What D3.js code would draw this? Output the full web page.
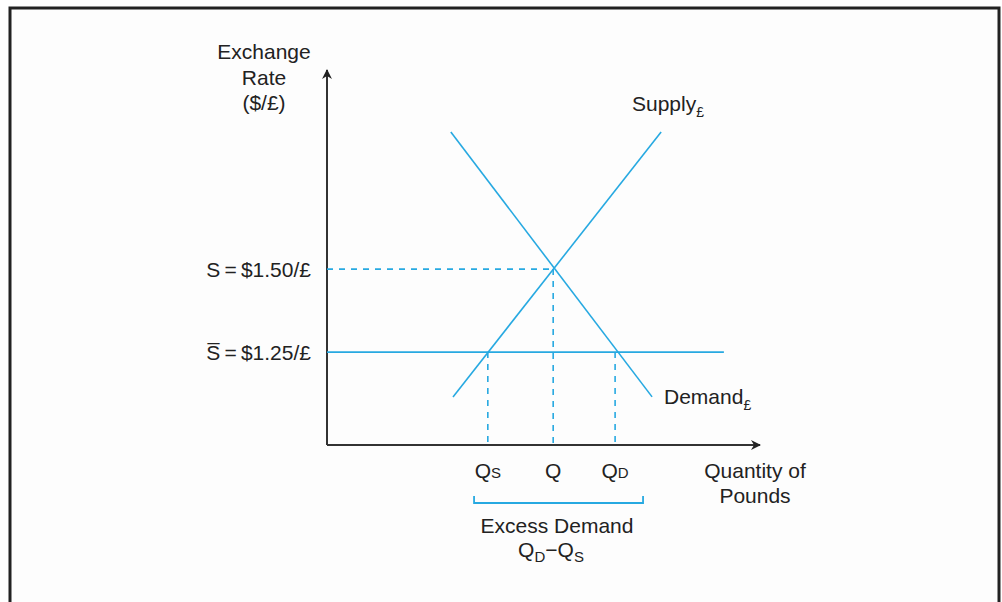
<!DOCTYPE html>
<html><head><meta charset="utf-8">
<script src="https://cdn.jsdelivr.net/npm/d3@7"></script>
<style>body{margin:0;background:#fff}text{font-family:"Liberation Sans",Arial,sans-serif;fill:#222}</style>
</head><body>
<script>
// Data (quantity units 0-100, exchange rate $/£)
const supplyLine = [{q:29.3, s:1.115},{q:77.7, s:1.913}];
const demandLine = [{q:28.8, s:1.913},{q:75.6, s:1.115}];
const rateLevels = [{label:"S", value:1.50, text:"\u2009=\u2009$1.50/£"},{label:"S\u0305", value:1.25, text:"\u2009=\u2009$1.25/£"}];
const quantities = [{name:"Q", sub:"s", q:37.4},{name:"Q", sub:"", q:52.6},{name:"Q", sub:"D", q:67.0}];
const pegEnd = 92.3;

const W=1002,H=602, FS=21;
const svg=d3.select("body").append("svg").attr("width",W).attr("height",H);
svg.append("rect").attr("x",10).attr("y",8).attr("width",989).attr("height",H).attr("fill","#fdfdfd").attr("stroke","#222").attr("stroke-width",3);

const x=d3.scaleLinear().domain([0,100]).range([327,757]);
const y=d3.scaleLinear().domain([0.97,2.10]).range([445,70]);
const blue="#27a9e1", axisC="#333";

// axes
svg.append("defs").append("marker").attr("id","arr").attr("viewBox","0 0 10 10").attr("refX",9).attr("refY",5)
  .attr("markerWidth",16).attr("markerHeight",10).attr("markerUnits","userSpaceOnUse").attr("orient","auto")
  .append("path").attr("d","M0,0L10,5L0,10L3,5Z").attr("fill","#222");
svg.append("line").attr("x1",x(0)).attr("y1",y(0.97)).attr("x2",x(0)).attr("y2",y(2.10)).attr("stroke",axisC).attr("stroke-width",2).attr("marker-end","url(#arr)");
svg.append("line").attr("x1",x(0)).attr("y1",y(0.97)).attr("x2",x(100)+3).attr("y2",y(0.97)).attr("stroke",axisC).attr("stroke-width",2).attr("marker-end","url(#arr)");

const line=d3.line().x(d=>x(d.q)).y(d=>y(d.s));
svg.append("path").attr("d",line(supplyLine)).attr("stroke",blue).attr("stroke-width",1.6).attr("fill","none");
svg.append("path").attr("d",line(demandLine)).attr("stroke",blue).attr("stroke-width",1.6).attr("fill","none");

// peg line
svg.append("line").attr("x1",x(0)).attr("x2",x(pegEnd)).attr("y1",y(1.25)).attr("y2",y(1.25)).attr("stroke",blue).attr("stroke-width",1.6);
// dashed equilibrium
svg.append("line").attr("x1",x(0)).attr("x2",x(quantities[1].q)).attr("y1",y(1.50)).attr("y2",y(1.50)).attr("stroke",blue).attr("stroke-width",1.6).attr("stroke-dasharray","6,6");
quantities.forEach((d,i)=>{
  const top = i===1?1.50:1.25;
  svg.append("line").attr("x1",x(d.q)).attr("x2",x(d.q)).attr("y1",y(top)).attr("y2",y(0.97)).attr("stroke",blue).attr("stroke-width",1.6).attr("stroke-dasharray","6,6");
  const t=svg.append("text").attr("x",x(d.q)).attr("y",478).attr("text-anchor","middle").attr("font-size",FS);
  t.append("tspan").text(d.name);
  if(d.sub) t.append("tspan").attr("font-size",15).text(d.sub.toUpperCase());
});

// y labels
rateLevels.forEach(d=>{
  const t=svg.append("text").attr("x",311).attr("y",y(d.value)+8).attr("text-anchor","end").attr("font-size",FS);
  t.append("tspan").text(d.label);
  t.append("tspan").text(d.text);
});

// axis titles
["Exchange","Rate","($/£)"].forEach((s,i)=>svg.append("text").attr("x",264).attr("y",59+i*25.5).attr("text-anchor","middle").attr("font-size",FS).text(s));
["Quantity of","Pounds"].forEach((s,i)=>svg.append("text").attr("x",755).attr("y",478+i*25).attr("text-anchor","middle").attr("font-size",FS).text(s));

// curve labels
const sl=svg.append("text").attr("x",632).attr("y",111).attr("font-size",FS);
sl.append("tspan").text("Supply"); sl.append("tspan").attr("font-size",14).attr("dy",6).text("£");
const dl=svg.append("text").attr("x",664).attr("y",404).attr("font-size",FS);
dl.append("tspan").text("Demand"); dl.append("tspan").attr("font-size",14).attr("dy",6).text("£");

// bracket
svg.append("path").attr("d",`M${x(34.2)},496V503H${x(73.5)}V496`).attr("stroke",blue).attr("stroke-width",1.8).attr("fill","none");
svg.append("text").attr("x",557).attr("y",533).attr("text-anchor","middle").attr("font-size",FS).text("Excess Demand");
const ed=svg.append("text").attr("x",551).attr("y",557).attr("text-anchor","middle").attr("font-size",FS);
ed.append("tspan").text("Q"); ed.append("tspan").attr("font-size",15).attr("dy",5).text("D");
ed.append("tspan").attr("dy",-5).text("\u2212Q"); ed.append("tspan").attr("font-size",15).attr("dy",5).text("S");
</script>
</body></html>
